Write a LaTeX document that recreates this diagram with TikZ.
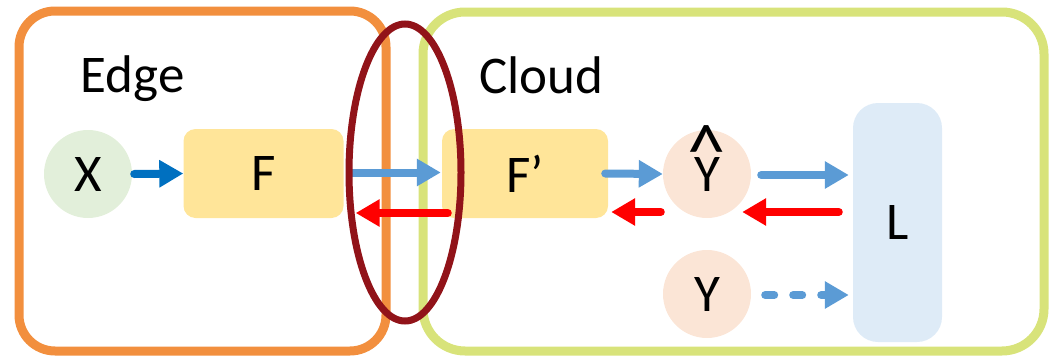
\documentclass[tikz,border=0pt]{standalone}
\usepackage{fontspec}
\setmainfont{Carlito}
\usetikzlibrary{arrows.meta,shapes.geometric,calc}

\definecolor{edgeorange}{RGB}{242,143,62}
\definecolor{cloudlime}{RGB}{216,227,122}
\definecolor{cutred}{RGB}{145,19,25}
\definecolor{modelyellow}{RGB}{255,229,153}
\definecolor{inputgreen}{RGB}{226,239,218}
\definecolor{outpeach}{RGB}{251,229,214}
\definecolor{losblue}{RGB}{222,235,247}
\definecolor{fwdblue}{RGB}{91,155,213}
\definecolor{fwddark}{RGB}{0,112,192}
\definecolor{backred}{RGB}{255,0,0}

\tikzset{
  lbl/.style={font=\fontsize{53}{60}\selectfont, text=black},
  region/.style={draw, line width=9pt, rectangle, inner sep=0pt},
  modelbox/.style={rectangle, rounded corners=12pt, fill=modelyellow, inner sep=0pt,
                   minimum width=160pt, minimum height=89pt, lbl},
  varnode/.style={circle, inner sep=0pt, minimum size=88pt, lbl},
  fwd/.style={draw=fwdblue, line width=8pt, line cap=round,
              -{Triangle[length=24pt,width=26pt]}},
  fwdx/.style={fwd, draw=fwddark},
  back/.style={draw=backred, line width=8pt, line cap=round,
               -{Triangle[length=24pt,width=26pt]}},
  fwddash/.style={fwd, dash pattern=on 9pt off 19pt},
}

\begin{document}
\begin{tikzpicture}[x=1pt,y=-1pt]
\useasboundingbox (0,0) rectangle (1050,359);

% the two regions
\node[region, draw=edgeorange, rounded corners=36pt,
      minimum width=367pt, minimum height=340pt] (edge) at (202.5,181) {};
\node[region, draw=cloudlime, rounded corners=42pt,
      minimum width=621pt, minimum height=339pt] (cloud) at (733.5,181.5) {};
\node[lbl, anchor=base west] (edgelbl) at (77,92) {Edge};
\node[lbl, anchor=base west] (cloudlbl) at (476,93) {Cloud};

% network parts
\node[varnode, fill=inputgreen] (X) at (88,174) {X};
\node[modelbox] (F) at (263.5,173.5) {F};
\node[modelbox, minimum width=166pt] (Fp) at (525,173.5) {F’};
\node[varnode, fill=outpeach] (Yh) at (707,174)
  {\ooalign{Y\cr\hidewidth\smash{\raisebox{0.25em}{\scalebox{1.45}{\textasciicircum}}}\hidewidth\cr}};
\node[varnode, fill=outpeach] (Y) at (707,294) {Y};
\node[rectangle, rounded corners=25pt, fill=losblue, inner sep=0pt,
      minimum width=89pt, minimum height=239pt, lbl] (L) at (897.5,222.5) {L};

% forward pass
\draw[fwdx] ($(X.east)+(2,0)$) -- (F.west);
\draw[fwd] ($(F.east)+(9,-1)$) -- ($(Fp.west)+(-1,-1)$);
\draw[fwd] ($(Fp.east)+(-3,0)$) -- (Yh.west);
\draw[fwd] ($(Yh.east)+(10,1)$) -- ($(L.west |- Yh.east)+(-4,1)$);
\draw[fwddash] ($(Y.east)+(14,1)$) -- ($(L.west |- Y.east)+(-4,1)$);

% backward pass
\draw[back] ($(L.west |- Yh.center)+(-14,38)$) -- ($(Yh.east)+(-9,38)$);
\draw[back] ($(Yh.west)+(-2,38)$) -- ($(Fp.east)+(3,38.5)$);
\draw[back] ($(Fp.west)+(6,39.5)$) -- ($(F.east)+(12,39.5)$);

% split point between edge and cloud
\node[ellipse, draw=cutred, line width=7pt, inner sep=0pt,
      minimum width=112pt, minimum height=297pt] (cut) at (405,172.5) {};
\end{tikzpicture}
\end{document}
